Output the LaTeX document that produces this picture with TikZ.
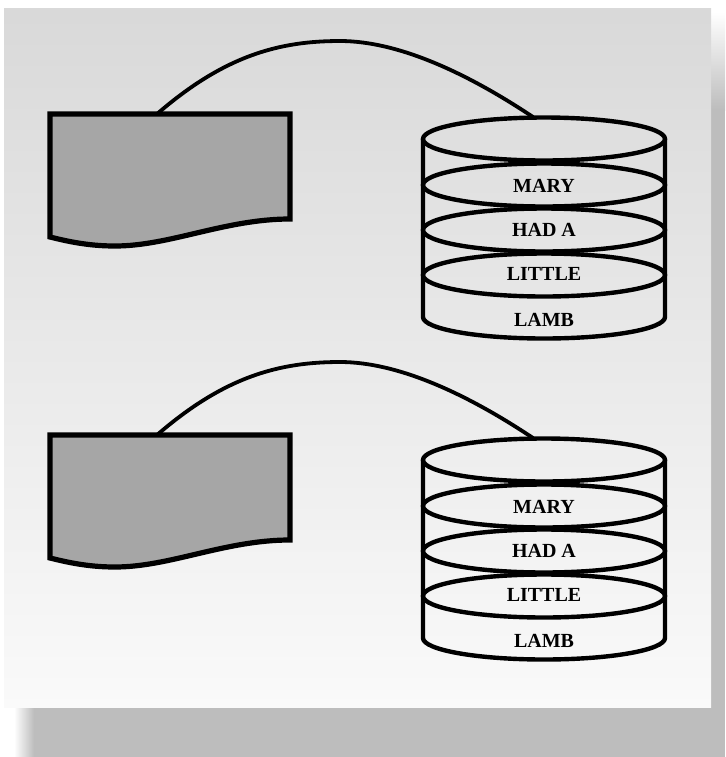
\documentclass[tikz,border=0pt]{standalone}
\usepackage{fontspec}
\setmainfont{Liberation Serif}
\usepackage{tikz}
\definecolor{docgray}{gray}{0.65}
\definecolor{shadowgray}{gray}{0.74}

\begin{document}
\begin{tikzpicture}[x=0.5pt,y=-0.5pt,
    docshape/.style={line width=2.6pt,fill=docgray,line join=miter},
    disk/.style={line width=2.2pt},
    link/.style={line width=1.9pt},
    lbl/.style={font=\bfseries,inner sep=0pt}]
  \useasboundingbox (0,0) rectangle (725,757);
  % shadow of the panel
  \fill[shadowgray] (34,707) rectangle (725,757);
  \shade[left color=white,right color=shadowgray] (14,707) rectangle (34,757);
  \shade[top color=white,bottom color=shadowgray] (711,12) rectangle (725,110);
  \fill[shadowgray] (711,110) rectangle (725,707);
  % panel
  \shade[top color=black!15,bottom color=black!2] (4,8) rectangle (711,707);
  \foreach \g/\dy in {1/0,2/321} {
    \coordinate (d\g) at (157,114+\dy); % top of document
    \coordinate (c\g) at (533,117+\dy); % top of cylinder
    \coordinate (p\g) at (340,41+\dy);  % peak of link
    % link
    \draw[link] (d\g) .. controls (225,55+\dy) and (280,41+\dy) .. (p\g)
      .. controls (400,41+\dy) and (470,75+\dy) .. (c\g);
    % document
    \draw[docshape] (50,114+\dy) -- (290,114+\dy) -- (290,219+\dy)
      .. controls (225,219+\dy) and (170,246+\dy) .. (115,246+\dy)
      .. controls (90,246+\dy) and (70,242+\dy) .. (50,237+\dy) -- cycle;
    % cylinder
    \draw[disk] (423,139+\dy) -- (423,317+\dy)
      arc[start angle=180,end angle=360,x radius=60.5pt,y radius=10.75pt]
      -- (665,139+\dy);
    \foreach \yy in {139,185,230,275}
      \draw[disk] (544,\yy+\dy) ellipse[x radius=60.5pt,y radius=10.75pt];
    % labels
    \foreach \k/\word/\yy in {1/MARY/186,2/HAD A/230,3/LITTLE/274,4/LAMB/320}
      \node[lbl] (t\g\k) at (544,\yy+\dy) {\word};
  }
\end{tikzpicture}
\end{document}
